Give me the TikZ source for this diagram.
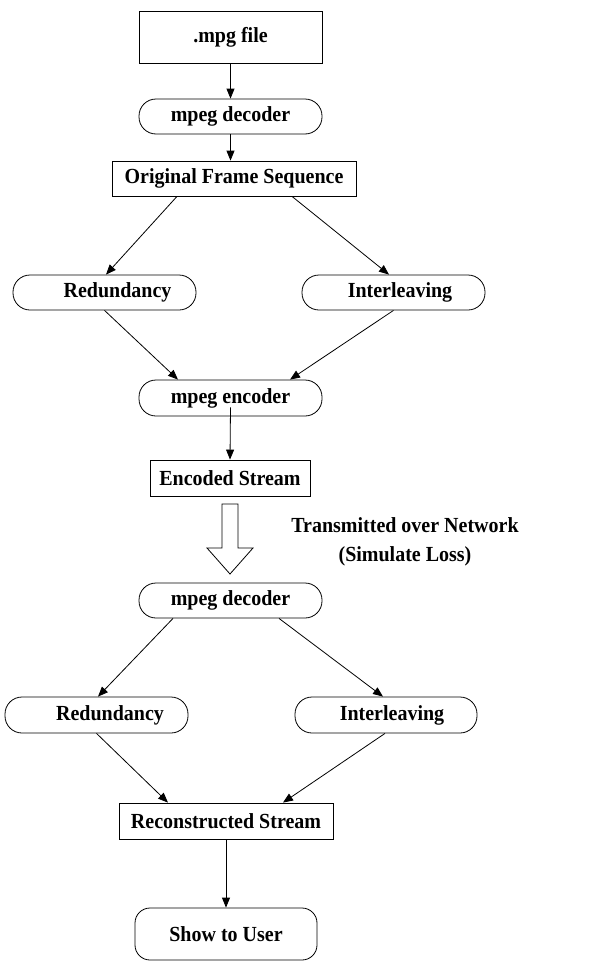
\documentclass[tikz,border=0pt]{standalone}
\usepackage{fontspec}
\usepackage{graphicx}
\setmainfont{Liberation Serif}
\usetikzlibrary{arrows.meta}
\newcommand{\sqz}[1]{\scalebox{0.93}[1]{#1}}
\begin{document}
\begin{tikzpicture}[x=1pt,y=-1pt,
  every node/.style={font=\fontsize{21.5}{29}\selectfont\bfseries, inner sep=0pt, line width=0.8pt},
  rbox/.style={draw, rectangle},
  pill/.style={draw, rectangle, rounded corners=17pt},
  conn/.style={line width=0.8pt, -{Triangle[length=10pt,width=8pt]}}]
\useasboundingbox (0,0) rectangle (604,961);
\node[rbox, minimum width=183pt, minimum height=52pt] (file) at (230.5,37) {\sqz{.mpg file}};
\node[pill, minimum width=183pt, minimum height=35pt] (dec1) at (230.5,116.5) {\sqz{mpeg decoder}};
\node[rbox, minimum width=244pt, minimum height=35pt] (ofs) at (234,178.5) {\sqz{Original Frame Sequence}};
\node[pill, minimum width=183pt, minimum height=35pt] (red1) at (104.5,292.5) {\hspace*{26pt}\sqz{Redundancy}};
\node[pill, minimum width=183pt, minimum height=35pt] (int1) at (393.5,292.5) {\hspace*{13pt}\sqz{Interleaving}};
\node[pill, minimum width=183pt, minimum height=36pt] (enc) at (230.5,398) {\sqz{mpeg encoder}};
\node[rbox, minimum width=160pt, minimum height=36pt] (es) at (230,478) {\sqz{Encoded Stream}};
\node[align=center] (tx) at (405,542) {\sqz{Transmitted over Network}\\\sqz{(Simulate Loss)}};
\node[pill, minimum width=183pt, minimum height=35pt] (dec2) at (230.5,600.5) {\sqz{mpeg decoder}};
\node[pill, minimum width=183pt, minimum height=36pt] (red2) at (96.5,715) {\hspace*{27pt}\sqz{Redundancy}};
\node[pill, minimum width=182pt, minimum height=36pt] (int2) at (386,715) {\hspace*{12pt}\sqz{Interleaving}};
\node[rbox, minimum width=214pt, minimum height=36pt] (rs) at (226,821) {\sqz{Reconstructed Stream}};
\node[draw, rectangle, rounded corners=15pt, minimum width=182pt, minimum height=52pt] (show) at (226,934) {\sqz{Show to User}};
% connectors
\draw[conn] (file.south) -- (dec1.north);
\draw[conn] (dec1.south) -- ([xshift=-3.5pt]ofs.north);
\draw[conn] ([xshift=-57pt]ofs.south) -- ([xshift=1.5pt]red1.north);
\draw[conn] ([xshift=58pt]ofs.south) -- ([xshift=-4.5pt]int1.north);
\draw[conn] (red1.south) -- ([xshift=-52.5pt]enc.north);
\draw[conn] (int1.south) -- ([xshift=59.5pt]enc.north);
\draw[conn] ([yshift=9pt]enc.south) -- (es.north);
\draw[conn] ([xshift=-57.5pt]dec2.south) -- ([xshift=1.5pt]red2.north);
\draw[conn] ([xshift=48.5pt]dec2.south) -- ([xshift=-3pt]int2.north);
\draw[conn] (red2.south) -- ([xshift=-58pt]rs.north);
\draw[conn] ([xshift=-1pt]int2.south) -- ([xshift=57pt]rs.north);
\draw[conn] (rs.south) -- (show.north);
% block arrow
\draw[line width=0.8pt] (222,504) -- (238,504) -- (238,548) -- (253,548) -- (230,574) -- (207,548) -- (222,548) -- cycle;
\end{tikzpicture}
\end{document}
